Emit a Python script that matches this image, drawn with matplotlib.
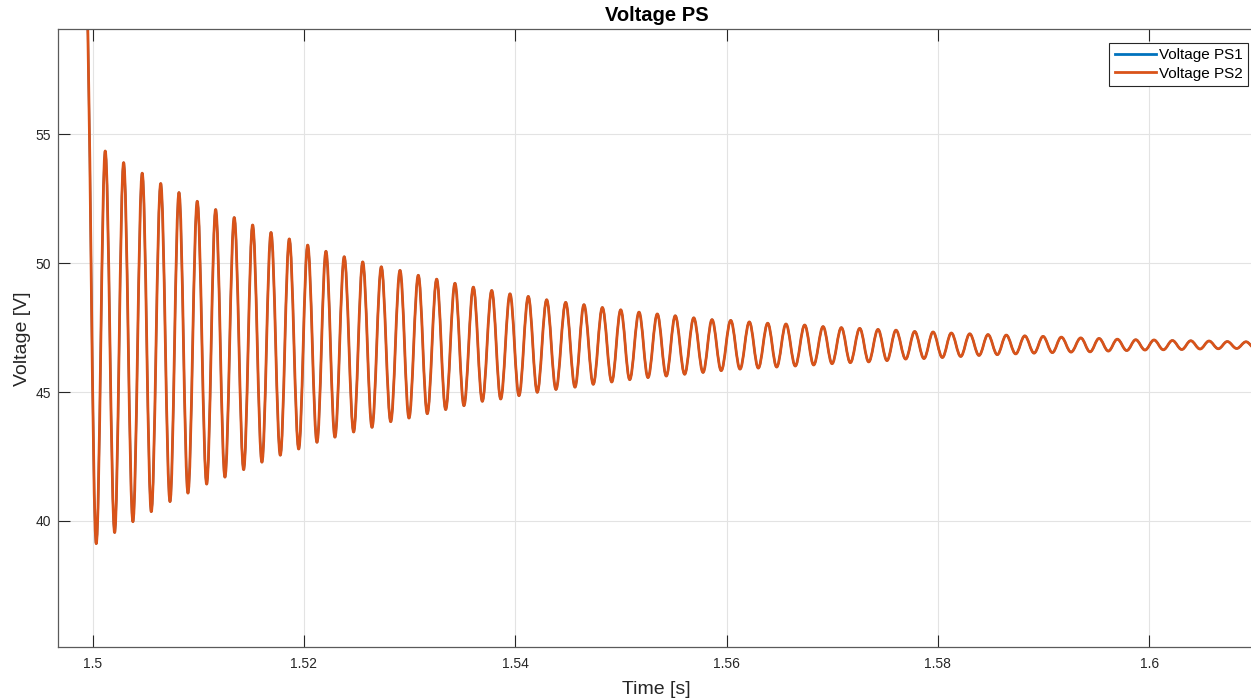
import matplotlib
matplotlib.use("Agg")
import matplotlib.pyplot as plt
from matplotlib.path import Path
from matplotlib.patches import PathPatch
from matplotlib.lines import Line2D

plt.rcParams["font.family"] = ["Liberation Sans", "DejaVu Sans"]

# Supply voltage ringing after the step: turning points of the waveform [s], [V]
start_t = 1.49936
start_v = 60.8

trough_t = [1.50034, 1.50208, 1.50381, 1.50555, 1.50732, 1.50902, 1.51079, 1.51252,
            1.51429, 1.51602, 1.51776, 1.51950, 1.52123, 1.52293, 1.52470, 1.52644,
            1.52821, 1.52994, 1.53167, 1.53341, 1.53514, 1.53688, 1.53862, 1.54035,
            1.54208, 1.54385, 1.54565, 1.54738, 1.54913, 1.55083, 1.55256, 1.55429,
            1.55603, 1.55777, 1.55949, 1.56127, 1.56300, 1.56474, 1.56650, 1.56824,
            1.56998, 1.57171, 1.57345, 1.57518, 1.57695, 1.57868, 1.58042, 1.58216,
            1.58389, 1.58562, 1.58736, 1.58910, 1.59083, 1.59260, 1.59440, 1.59613,
            1.59787, 1.59960, 1.60134, 1.60308, 1.60481, 1.60654, 1.60828, 1.61000]
trough_v = [39.12, 39.55, 39.97, 40.36, 40.75, 41.08, 41.43, 41.70, 41.99, 42.28,
            42.55, 42.79, 43.05, 43.25, 43.45, 43.63, 43.85, 43.99, 44.16, 44.32,
            44.47, 44.64, 44.73, 44.86, 44.99, 45.10, 45.19, 45.30, 45.39, 45.48,
            45.56, 45.62, 45.69, 45.76, 45.83, 45.89, 45.93, 45.97, 46.01, 46.05,
            46.10, 46.14, 46.17, 46.22, 46.28, 46.30, 46.34, 46.38, 46.42, 46.45,
            46.48, 46.51, 46.53, 46.55, 46.56, 46.59, 46.61, 46.63, 46.64, 46.65,
            46.67, 46.68, 46.69, 46.70]

peak_t = [1.50119, 1.50293, 1.50469, 1.50644, 1.50817, 1.50990, 1.51164, 1.51340,
          1.51514, 1.51688, 1.51861, 1.52035, 1.52208, 1.52381, 1.52556, 1.52732,
          1.52909, 1.53082, 1.53256, 1.53429, 1.53603, 1.53777, 1.53950, 1.54123,
          1.54297, 1.54477, 1.54650, 1.54824, 1.54998, 1.55171, 1.55344, 1.55514,
          1.55689, 1.55862, 1.56039, 1.56215, 1.56389, 1.56562, 1.56739, 1.56913,
          1.57086, 1.57260, 1.57433, 1.57603, 1.57780, 1.57954, 1.58127, 1.58301,
          1.58474, 1.58647, 1.58822, 1.58995, 1.59168, 1.59352, 1.59525, 1.59698,
          1.59872, 1.60045, 1.60219, 1.60393, 1.60566, 1.60739, 1.60916]
peak_v = [54.35, 53.90, 53.49, 53.09, 52.74, 52.40, 52.08, 51.77, 51.48, 51.19,
          50.94, 50.70, 50.46, 50.25, 50.05, 49.86, 49.72, 49.53, 49.38, 49.22,
          49.07, 48.94, 48.81, 48.71, 48.58, 48.48, 48.39, 48.28, 48.19, 48.10,
          48.03, 47.96, 47.88, 47.81, 47.78, 47.72, 47.67, 47.64, 47.60, 47.54,
          47.50, 47.47, 47.43, 47.40, 47.35, 47.33, 47.29, 47.26, 47.23, 47.21,
          47.18, 47.16, 47.13, 47.10, 47.08, 47.05, 47.03, 47.02, 47.00, 46.99,
          46.98, 46.96, 46.95]

series_names = ["Voltage PS1", "Voltage PS2"]
series_colors = ["#0072BD", "#D95319"]
# PS1 sits exactly under PS2, so it is drawn a little thinner
series_widths = [1.5, 2.0]

x_ticks = [1.5, 1.52, 1.54, 1.56, 1.58, 1.6]
x_ticklabels = ["1.5", "1.52", "1.54", "1.56", "1.58", "1.6"]
y_ticks = [40, 45, 50, 55]


def turning_points():
    pts = [(start_t, start_v)]
    pts += list(zip(trough_t, trough_v))
    pts += list(zip(peak_t, peak_v))
    pts.sort()
    return pts


def smooth_path(pts, k=0.36):
    """Cubic Bezier through the turning points, flat tangent at each one."""
    verts = [pts[0]]
    codes = [Path.MOVETO]
    for (t0, v0), (t1, v1) in zip(pts[:-1], pts[1:]):
        dt = t1 - t0
        verts += [(t0 + k * dt, v0), (t1 - k * dt, v1), (t1, v1)]
        codes += [Path.CURVE4] * 3
    return Path(verts, codes)


fig = plt.figure(figsize=(12.51, 6.98), dpi=100)
fig.patch.set_facecolor("white")
# the axes run a few pixels past the right border of the figure
ax = fig.add_axes([58 / 1251, 50.7 / 698, 1197 / 1251, 618 / 698])

pts = turning_points()
for name, color, lw in zip(series_names, series_colors, series_widths):
    patch = PathPatch(smooth_path(pts), fill=False, edgecolor=color,
                      linewidth=lw, joinstyle="round", capstyle="round")
    ax.add_patch(patch)

ax.set_xlim(1.49672, 1.61001)
ax.set_ylim(35.1, 59.07)

ax.set_xticks(x_ticks)
ax.set_xticklabels(x_ticklabels)
ax.set_yticks(y_ticks)
ax.tick_params(direction="in", length=8.5, width=0.8, color="#262626",
               labelcolor="#262626", labelsize=10, top=True, right=False)
ax.tick_params(axis="x", pad=7)
ax.tick_params(axis="y", pad=5)

ax.grid(True, color="#e3e3e3", linewidth=0.8)
ax.set_axisbelow(True)
for sp in ax.spines.values():
    sp.set_color("#5a5a5a")
    sp.set_linewidth(0.9)

ax.set_title("Voltage PS", fontsize=14.5, fontweight="bold", pad=6, color="black")
ax.set_xlabel("Time [s]", fontsize=14, color="#262626", labelpad=7)
ax.set_ylabel("Voltage [V]", fontsize=14, color="#262626", labelpad=3)

handles = [Line2D([], [], color=c, linewidth=2.0) for c in series_colors]
leg = ax.legend(handles, series_names, loc="upper right",
                bbox_to_anchor=(1190 / 1197, 0.9783), borderaxespad=0,
                fontsize=11, fancybox=False, framealpha=1, edgecolor="#262626",
                handlelength=2.7, handletextpad=0.2, labelspacing=0.3,
                borderpad=0.35)
leg.get_frame().set_linewidth(0.8)

fig.savefig("out.png", dpi=100, facecolor="white")
